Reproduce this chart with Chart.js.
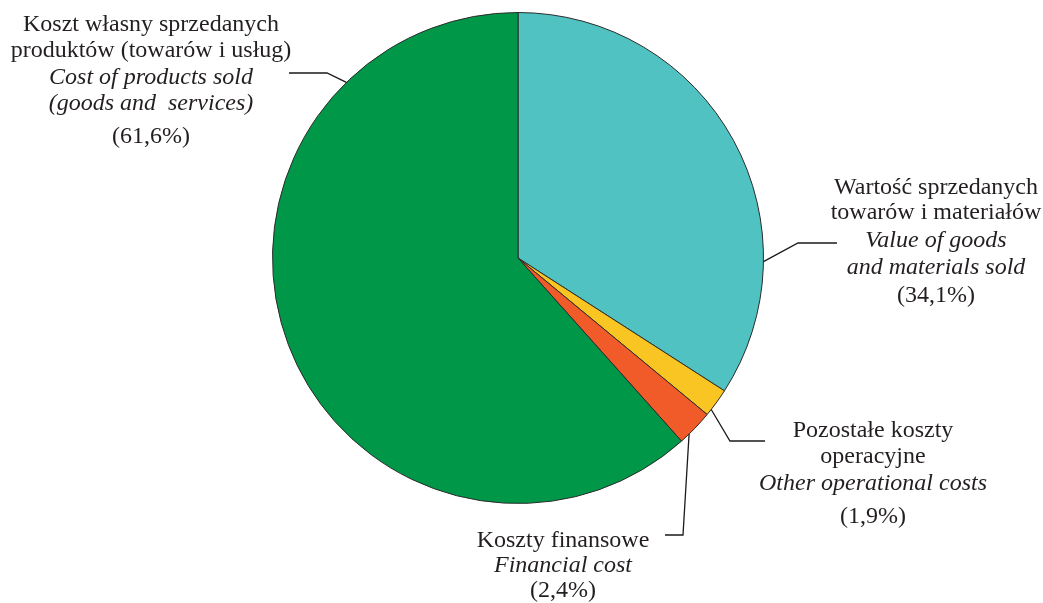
<!DOCTYPE html>
<html>
<head>
<meta charset="utf-8">
<script src="https://cdn.jsdelivr.net/npm/chart.js@4.4.0/dist/chart.umd.min.js"></script>
<style>
  html, body { margin: 0; padding: 0; background: #fff; }
</style>
</head>
<body>
<canvas id="myChart" width="1043" height="603"></canvas>
<script>
// slices clockwise from 12 o'clock
const categoriesPl = ['Wartość sprzedanych towarów i materiałów', 'Pozostałe koszty operacyjne', 'Koszty finansowe', 'Koszt własny sprzedanych produktów (towarów i usług)'];
const categoriesEn = ['Value of goods and materials sold', 'Other operational costs', 'Financial cost', 'Cost of products sold (goods and services)'];
const shares = [34.1, 1.9, 2.4, 61.6];
const shareLabels = ['(34,1%)', '(1,9%)', '(2,4%)', '(61,6%)'];

const sliceColors = ['#4fc2c1', '#f8c522', '#f15a29', '#009848'];

// label blocks: text lines, where to put them, leader line route
const labelBlocks = [
    {
        lines: [['Wartość sprzedanych', false, 188], ['towarów i materiałów', false, 213], ['Value of goods', true, 241], ['and materials sold', true, 268], [shareLabels[0], false, 296]],
        cx: 936, at: 0.74, route: [[798, 243], [837, 243]]
    },
    {
        lines: [['Pozostałe koszty', false, 431], ['operacyjne', false, 457], ['Other operational costs', true, 484], [shareLabels[1], false, 517]],
        cx: 873, at: 0.78, route: [[730, 441], [765, 441]]
    },
    {
        lines: [['Koszty finansowe', false, 541], ['Financial cost', true, 566], [shareLabels[2], false, 591]],
        cx: 563, at: 0.72, route: [[683, 535], [665, 535]]
    },
    {
        lines: [['Koszt własny sprzedanych', false, 25], ['produktów (towarów i usług)', false, 51], ['Cost of products sold', true, 78], ['(goods and  services)', true, 104], [shareLabels[3], false, 137]],
        cx: 151, at: 0.8, route: [[327, 73], [289, 73]]
    }
];

const calloutPlugin = {
    id: 'callouts',
    afterDraw(chart) {
        const ctx = chart.ctx;
        const arcs = chart.getDatasetMeta(0).data;
        ctx.save();
        ctx.textAlign = 'center';
        ctx.textBaseline = 'middle';
        ctx.fillStyle = '#231f20';
        labelBlocks.forEach(function (b, i) {
            const arc = arcs[i];
            const p = arc.getProps(['x', 'y', 'startAngle', 'endAngle', 'outerRadius'], true);
            const a = p.startAngle + b.at * (p.endAngle - p.startAngle);
            ctx.beginPath();
            ctx.moveTo(p.x + Math.cos(a) * p.outerRadius, p.y + Math.sin(a) * p.outerRadius);
            b.route.forEach(function (pt) { ctx.lineTo(pt[0], pt[1]); });
            ctx.strokeStyle = '#1a1a1a';
            ctx.lineWidth = 1.3;
            ctx.stroke();
            b.lines.forEach(function (ln) {
                ctx.font = (ln[1] ? 'italic ' : '') + '24px "Liberation Serif", serif';
                ctx.fillText(ln[0], b.cx, ln[2]);
            });
        });
        ctx.restore();
    }
};

var ctx = document.getElementById('myChart');
var myChart = new Chart(ctx, {
    type: 'pie',
    data: {
        labels: categoriesPl,
        datasets: [{
            label: '%',
            data: shares,
            backgroundColor: sliceColors,
            borderColor: '#2b2b2b',
            borderWidth: 1
        }]
    },
    options: {
        responsive: false,
        animation: false,
        layout: { padding: { left: 272, right: 279, top: 12, bottom: 99 } },
        plugins: {
            legend: { display: false },
            tooltip: { enabled: false }
        }
    },
    plugins: [calloutPlugin]
});
</script>
</body>
</html>
